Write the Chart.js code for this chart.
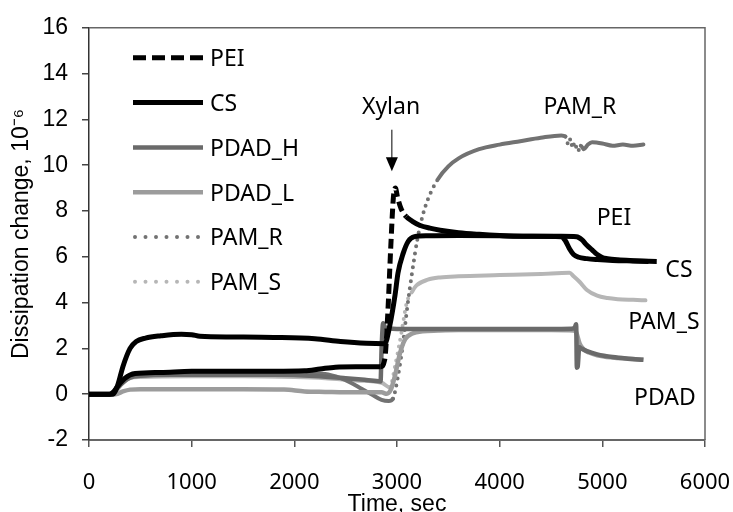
<!DOCTYPE html>
<html><head><meta charset="utf-8">
<script src="https://cdn.jsdelivr.net/npm/chart.js@4.4.1/dist/chart.umd.min.js"></script>
<style>html,body{margin:0;padding:0;background:#fff}#wrap{width:733px;height:512px}</style>
</head><body><div id="wrap"><canvas id="c" width="733" height="512"></canvas></div>
<script>
// ---------- data ----------
const seriesNames = ['PEI', 'CS', 'PDAD_H', 'PDAD_L', 'PAM_R', 'PAM_S'];
const xTickLabels = ['0', '1000', '2000', '3000', '4000', '5000', '6000'];
const yTickLabels = ['-2', '0', '2', '4', '6', '8', '10', '12', '14', '16'];
const xTitle = 'Time, sec';
const yTitle = 'Dissipation change, 10\u207B\u2076';

const peiTime  = [0,200,240,280,350,450,700,1000,1500,1800,2100,2250,2400,2600,2840,2880,2910,2940,2965,2985,3005,3040,3090,3150,3220,3320,3420,3600,3800,4000,4200,4400,4600,4750,4800,4850,4900,4950,5000,5050,5150,5300,5450];
const peiValue = [0,0,0.1,0.35,0.7,0.9,0.95,1.0,1.0,1.0,1.02,1.1,1.18,1.2,1.2,1.5,3.5,6.5,8.6,9.0,8.6,8.1,7.75,7.55,7.38,7.25,7.16,7.05,6.98,6.93,6.9,6.9,6.9,6.88,6.75,6.5,6.3,6.1,5.97,5.92,5.87,5.83,5.8];

const csTime  = [0,230,280,330,400,460,550,700,900,1000,1080,1400,1800,2200,2450,2700,2880,2930,2980,3010,3060,3110,3170,3300,3600,4000,4300,4600,4640,4680,4720,4770,4850,4950,5100,5300,5530];
const csValue = [0,0,0.4,1.2,2.0,2.3,2.45,2.55,2.62,2.6,2.53,2.5,2.48,2.42,2.3,2.22,2.2,3.0,4.3,5.3,6.15,6.68,6.88,6.92,6.93,6.92,6.9,6.88,6.7,6.35,6.1,5.98,5.92,5.88,5.84,5.82,5.8];

const pdadHTime  = [0,200,240,280,340,400,500,800,1200,1800,2200,2500,2700,2840,2850,2865,2880,2920,3000,3500,4000,4500,4700,4730,4745,4752,4760,4775,4800,4850,4950,5100,5250,5400];
const pdadHValue = [0,0,0.1,0.3,0.55,0.72,0.8,0.85,0.85,0.85,0.8,0.7,0.62,0.56,2.0,3.1,2.95,2.88,2.85,2.85,2.85,2.85,2.86,2.9,3.05,1.15,1.2,2.05,1.98,1.88,1.74,1.62,1.55,1.5];

const pdadLTime  = [0,200,260,330,400,500,1000,1500,1900,2100,2300,2600,2850,2900,2940,2980,3030,3080,3150,3250,3400,3600,4000,4500,4720,4745,4780,4820,4870,4950,5100,5250,5400];
const pdadLValue = [0,0,0,0.12,0.2,0.22,0.22,0.22,0.2,0.12,0.1,0.08,0.08,0.02,0.2,0.8,1.8,2.4,2.65,2.75,2.78,2.8,2.8,2.8,2.78,2.7,2.2,1.95,1.82,1.7,1.6,1.55,1.5];

const pamRTime  = [0,200,250,300,400,500,800,1500,2000,2300,2450,2550,2650,2750,2850,2920,2960,3010,3055,3100,3150,3200,3250,3300,3400,3500,3600,3800,4000,4200,4400,4600,4640,4670,4690,4710,4730,4760,4790,4820,4860,4900,5000,5100,5200,5300,5400];
const pamRValue = [0,0,0.1,0.4,0.8,0.9,0.95,0.95,0.93,0.88,0.7,0.5,0.25,0.0,-0.25,-0.3,-0.2,0.8,2.1,3.8,5.4,6.8,7.8,8.5,9.4,9.95,10.3,10.7,10.9,11.05,11.2,11.3,11.25,10.9,11.15,10.75,11.0,10.6,10.85,10.7,10.9,11.0,10.95,10.85,10.9,10.85,10.9];

const pamSTime  = [0,200,260,320,400,500,1000,1500,2000,2300,2600,2850,2930,2980,3040,3095,3150,3190,3300,3420,3600,4000,4400,4680,4720,4780,4850,4950,5050,5150,5300,5420];
const pamSValue = [0,0,0.1,0.45,0.7,0.75,0.78,0.78,0.75,0.7,0.6,0.5,0.3,1.2,2.6,4.0,4.5,4.75,5.0,5.1,5.15,5.2,5.25,5.3,5.15,4.9,4.55,4.3,4.2,4.15,4.12,4.1];

// annotation texts, anchored in data coordinates
const annotations = [
  {text: 'Xylan', t: 2942, v: 12.6},
  {text: 'PAM_R', t: 4782, v: 12.6},
  {text: 'PEI',   t: 5113, v: 7.76},
  {text: 'CS',    t: 5746, v: 5.47},
  {text: 'PAM_S', t: 5600, v: 3.23},
  {text: 'PDAD',  t: 5610, v: -0.09}
];
const arrow = {t: 2950, from: 11.55, to: 9.74};

// ---------- styling ----------
const pts = (ts, vs) => ts.map((t, i) => ({x: t, y: vs[i]}));
const steep = ctx => Math.abs(ctx.p1.y - ctx.p0.y) > 1.5 * Math.abs(ctx.p1.x - ctx.p0.x);
const styles = [
  {color: '#000000', width: 5, steepDash: [10, 5], legendDash: [13, 6], cap: 'butt'},
  {color: '#000000', width: 5, steepDash: null, legendDash: [], cap: 'butt'},
  {color: '#6a6a6a', width: 4.5, steepDash: null, legendDash: [], cap: 'butt'},
  {color: '#9c9c9c', width: 4.5, steepDash: null, legendDash: [], cap: 'butt'},
  {color: '#727272', width: 4, steepDash: [0, 7], legendDash: [0, 10.5], cap: 'round'},
  {color: '#b6b6b6', width: 4, steepDash: [0, 7], legendDash: [0, 10.5], cap: 'round'}
];
const seriesData = [
  pts(peiTime, peiValue), pts(csTime, csValue), pts(pdadHTime, pdadHValue),
  pts(pdadLTime, pdadLValue), pts(pamRTime, pamRValue), pts(pamSTime, pamSValue)
];

const datasets = seriesNames.map((name, i) => ({
  label: name,
  data: seriesData[i],
  borderColor: styles[i].color,
  backgroundColor: styles[i].color,
  borderWidth: styles[i].width,
  borderCapStyle: styles[i].cap,
  borderJoinStyle: 'round',
  pointRadius: 0,
  fill: false,
  cubicInterpolationMode: 'monotone',
  segment: {
    borderDash: ctx => (styles[i].steepDash && steep(ctx)) ? styles[i].steepDash : undefined
  }
}));

const LABEL_FONT = '23px "Noto Sans", "DejaVu Sans", sans-serif';

const framePlugin = {
  id: 'frame',
  beforeDatasetsDraw(chart) {
    const {ctx, chartArea: a} = chart;
    ctx.save();
    ctx.strokeStyle = '#666';
    ctx.lineWidth = 1.5;
    ctx.beginPath();
    ctx.moveTo(a.left, a.top);
    ctx.lineTo(a.right, a.top);
    ctx.lineTo(a.right, a.bottom);
    ctx.stroke();
    ctx.restore();
  }
};

const legendPlugin = {
  id: 'inLegend',
  afterDatasetsDraw(chart) {
    const {ctx, chartArea: a} = chart;
    ctx.save();
    seriesNames.forEach((name, i) => {
      const y = a.top + 30 + i * 44.8;
      const x0 = a.left + 44, x1 = a.left + 114;
      const s = styles[i];
      ctx.strokeStyle = s.color;
      ctx.lineWidth = s.width;
      ctx.lineCap = s.cap;
      ctx.setLineDash(s.legendDash);
      ctx.beginPath();
      ctx.moveTo(x0 + (s.cap === 'round' ? 2 : 0), y);
      ctx.lineTo(x1, y);
      ctx.stroke();
      ctx.setLineDash([]);
      ctx.fillStyle = '#000';
      ctx.font = LABEL_FONT;
      ctx.textAlign = 'left';
      ctx.textBaseline = 'alphabetic';
      ctx.fillText(name, x1 + 7, y + 8.3);
    });
    ctx.restore();
  }
};

const annotationPlugin = {
  id: 'notes',
  afterDatasetsDraw(chart) {
    const {ctx} = chart;
    const xs = chart.scales.x, ys = chart.scales.y;
    ctx.save();
    ctx.fillStyle = '#000';
    ctx.font = LABEL_FONT;
    ctx.textAlign = 'center';
    ctx.textBaseline = 'alphabetic';
    annotations.forEach(n => {
      ctx.fillText(n.text, xs.getPixelForValue(n.t), ys.getPixelForValue(n.v) + 8.3);
    });
    const ax = xs.getPixelForValue(arrow.t);
    const ay0 = ys.getPixelForValue(arrow.from);
    const ay1 = ys.getPixelForValue(arrow.to);
    ctx.strokeStyle = '#000';
    ctx.lineWidth = 1;
    ctx.beginPath();
    ctx.moveTo(ax, ay0);
    ctx.lineTo(ax, ay1 - 12);
    ctx.stroke();
    ctx.beginPath();
    ctx.moveTo(ax - 6, ay1 - 14);
    ctx.lineTo(ax + 6, ay1 - 14);
    ctx.lineTo(ax, ay1);
    ctx.closePath();
    ctx.fill();
    ctx.restore();
  }
};

new Chart(document.getElementById('c'), {
  type: 'line',
  data: {datasets},
  options: {
    responsive: false,
    animation: false,
    devicePixelRatio: 1,
    layout: {padding: {top: 22, right: 28, left: 0, bottom: 0}},
    plugins: {legend: {display: false}, tooltip: {enabled: false}},
    scales: {
      x: {
        type: 'linear', min: 0, max: 6000,
        afterFit: s => { s.height = 72; s.paddingLeft = 0; s.paddingRight = 0; },
        ticks: {
          stepSize: 1000, autoSkip: false, maxRotation: 0, padding: 23,
          color: '#000',
          font: {family: '"Noto Sans", "DejaVu Sans", sans-serif', size: 22},
          callback: (v, i) => xTickLabels[i]
        },
        grid: {display: true, drawOnChartArea: false, drawTicks: true, tickLength: 7, color: '#555', lineWidth: 1.5},
        border: {display: true, color: '#666', width: 2},
        title: {
          display: true, text: xTitle, color: '#000',
          font: {family: '"Liberation Sans", Arial, sans-serif', size: 23},
          padding: {top: 0, bottom: -6}
        }
      },
      y: {
        type: 'linear', min: -2, max: 16,
        afterFit: s => { s.width = 89; },
        ticks: {
          stepSize: 2, autoSkip: false, padding: 14,
          color: '#000',
          font: {family: '"Liberation Sans", Arial, sans-serif', size: 23},
          callback: (v, i) => yTickLabels[i]
        },
        grid: {display: true, drawOnChartArea: false, drawTicks: true, tickLength: 7, color: '#444', lineWidth: 1.5},
        border: {display: true, color: '#333', width: 1.5},
        title: {
          display: true, text: yTitle, color: '#000',
          font: {family: '"Liberation Sans", Arial, sans-serif', size: 23},
          padding: {top: 8, bottom: 0}
        }
      }
    }
  },
  plugins: [framePlugin, legendPlugin, annotationPlugin]
});
</script>
</body></html>
